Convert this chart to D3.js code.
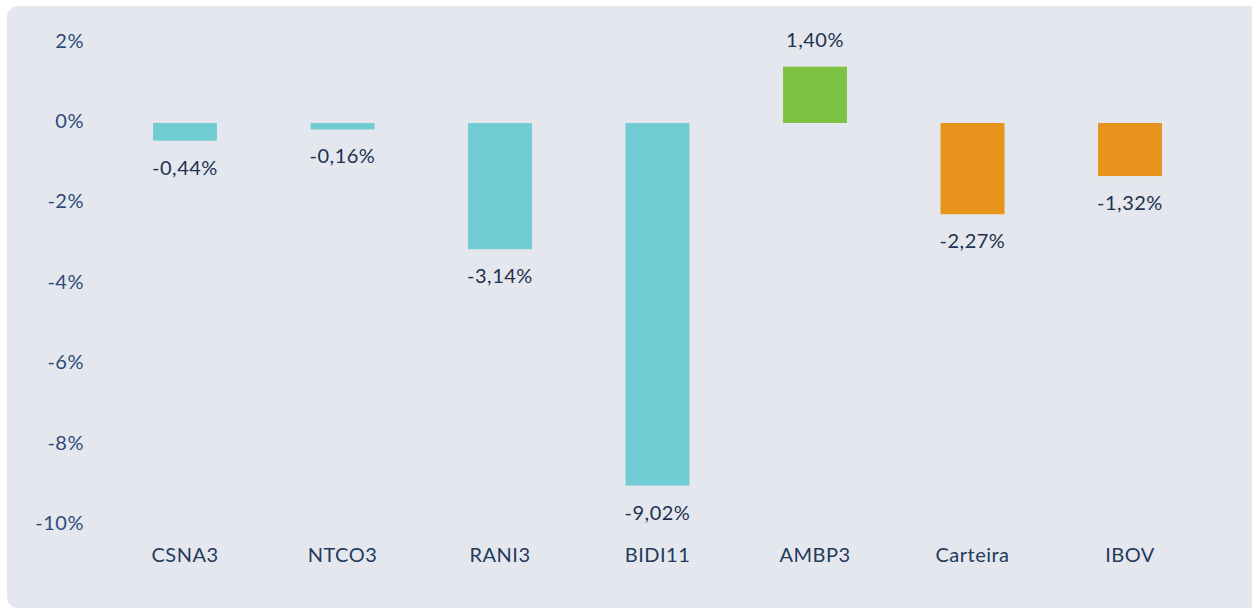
<!DOCTYPE html>
<html>
<head>
<meta charset="utf-8">
<script src="https://cdn.jsdelivr.net/npm/d3@7"></script>
<style>
  html, body { margin: 0; padding: 0; background: #ffffff; }
  svg { display: block; font-family: "Lato", "Noto Sans", sans-serif; }
</style>
</head>
<body>
<div id="chart"></div>
<script>
// ---- data
const categories = ['CSNA3', 'NTCO3', 'RANI3', 'BIDI11', 'AMBP3', 'Carteira', 'IBOV'];
const values = [-0.44, -0.16, -3.14, -9.02, 1.40, -2.27, -1.32];
const groups = ['stock', 'stock', 'stock', 'stock', 'stock', 'total', 'total'];
const yTicks = [2, 0, -2, -4, -6, -8, -10];

const W = 1252, H = 609;
const fmt = v => v.toFixed(2).replace('.', ',') + '%';

const barColor = (v, g) => g === 'total' ? '#e8941c' : (v >= 0 ? '#7dc243' : '#72ccd4');

const svg = d3.select('#chart').append('svg')
  .attr('width', W).attr('height', H);

// panel background
svg.append('rect')
  .attr('x', 7).attr('y', 6)
  .attr('width', W - 7 + 12).attr('height', H - 7)
  .attr('rx', 11).attr('ry', 11)
  .attr('fill', '#e4e8ee');

// ---- scales
const x = d3.scaleBand()
  .domain(categories)
  .range([106.25, 1208.75])
  .paddingInner(0.594)
  .paddingOuter(0.297);

const y = d3.scaleLinear()
  .domain([-10, 2])
  .range([525, 42.6]);

const textStyle = sel => sel
  .attr('font-size', 20)
  .attr('font-weight', 400)
  .attr('letter-spacing', 0.5);

// ---- y axis labels
svg.append('g')
  .selectAll('text')
  .data(yTicks)
  .join('text')
  .attr('x', 84)
  .attr('y', d => y(d) - 2)
  .attr('dy', '0.35em')
  .attr('text-anchor', 'end')
  .attr('fill', '#2e4b7b')
  .call(textStyle)
  .text(d => d + '%');

// ---- bars
const data = categories.map((c, i) => ({ c, v: values[i], g: groups[i] }));

svg.append('g')
  .selectAll('rect')
  .data(data)
  .join('rect')
  .attr('x', d => x(d.c))
  .attr('width', x.bandwidth())
  .attr('y', d => y(Math.max(0, d.v)))
  .attr('height', d => Math.abs(y(d.v) - y(0)))
  .attr('fill', d => barColor(d.v, d.g));

// ---- value labels
svg.append('g')
  .selectAll('text')
  .data(data)
  .join('text')
  .attr('x', d => x(d.c) + x.bandwidth() / 2)
  .attr('y', d => d.v >= 0 ? y(d.v) - 27 : y(d.v) + 27)
  .attr('dy', '0.35em')
  .attr('text-anchor', 'middle')
  .attr('fill', '#1e3150')
  .call(textStyle)
  .text(d => fmt(d.v));

// ---- category labels
svg.append('g')
  .selectAll('text')
  .data(categories)
  .join('text')
  .attr('x', d => x(d) + x.bandwidth() / 2)
  .attr('y', 555)
  .attr('dy', '0.35em')
  .attr('text-anchor', 'middle')
  .attr('fill', '#243a5c')
  .call(textStyle)
  .text(d => d);
</script>
</body>
</html>
